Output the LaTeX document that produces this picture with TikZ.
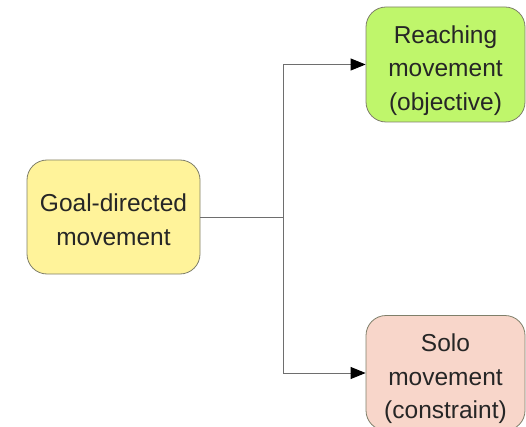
\documentclass[tikz,border=0pt]{standalone}
\usepackage{fontspec}
\setmainfont{Liberation Sans}
\usetikzlibrary{arrows.meta}
\definecolor{goalfill}{HTML}{FFF39A}
\definecolor{reachfill}{HTML}{BFF66B}
\definecolor{solofill}{HTML}{F8D6CA}
\definecolor{boxline}{HTML}{7F7F6A}
\definecolor{linkline}{HTML}{6E6E6E}
% a taller first line pushes the centred text block slightly down
\newcommand{\toppad}[1]{\rule{0pt}{#1}}
\tikzset{
  box/.style={draw=boxline, line width=0.8pt, rounded corners=20pt,
    align=center, font=\fontsize{24.5}{33.5}\selectfont, text=black!85,
    inner sep=0pt},
  link/.style={draw=linkline, line width=0.9pt},
  linkarrow/.style={link, -{Triangle[length=15pt,width=12pt,fill=black,color=black]}}
}
\begin{document}
\begin{tikzpicture}[x=1pt,y=-1pt]
  \useasboundingbox (0,0) rectangle (526,427);
  \clip (0,0) rectangle (526,427);
  \node[box, fill=goalfill, minimum width=173pt, minimum height=114pt]
    (goal) at (113.5,217) {\toppad{23pt}Goal-directed\\movement};
  \node[box, fill=reachfill, minimum width=159pt, minimum height=115pt]
    (reach) at (445.5,64.5) {\toppad{30pt}Reaching\\movement\\(objective)};
  \node[box, fill=solofill, minimum width=159pt, minimum height=115pt]
    (solo) at (445.5,373) {\toppad{30pt}Solo\\movement\\(constraint)};
  \coordinate (fork) at (283,217);
  \draw[link] (goal.east) -- (fork);
  \draw[linkarrow] (fork) |- (reach.west);
  \draw[linkarrow] (fork) |- (solo.west);
\end{tikzpicture}
\end{document}
